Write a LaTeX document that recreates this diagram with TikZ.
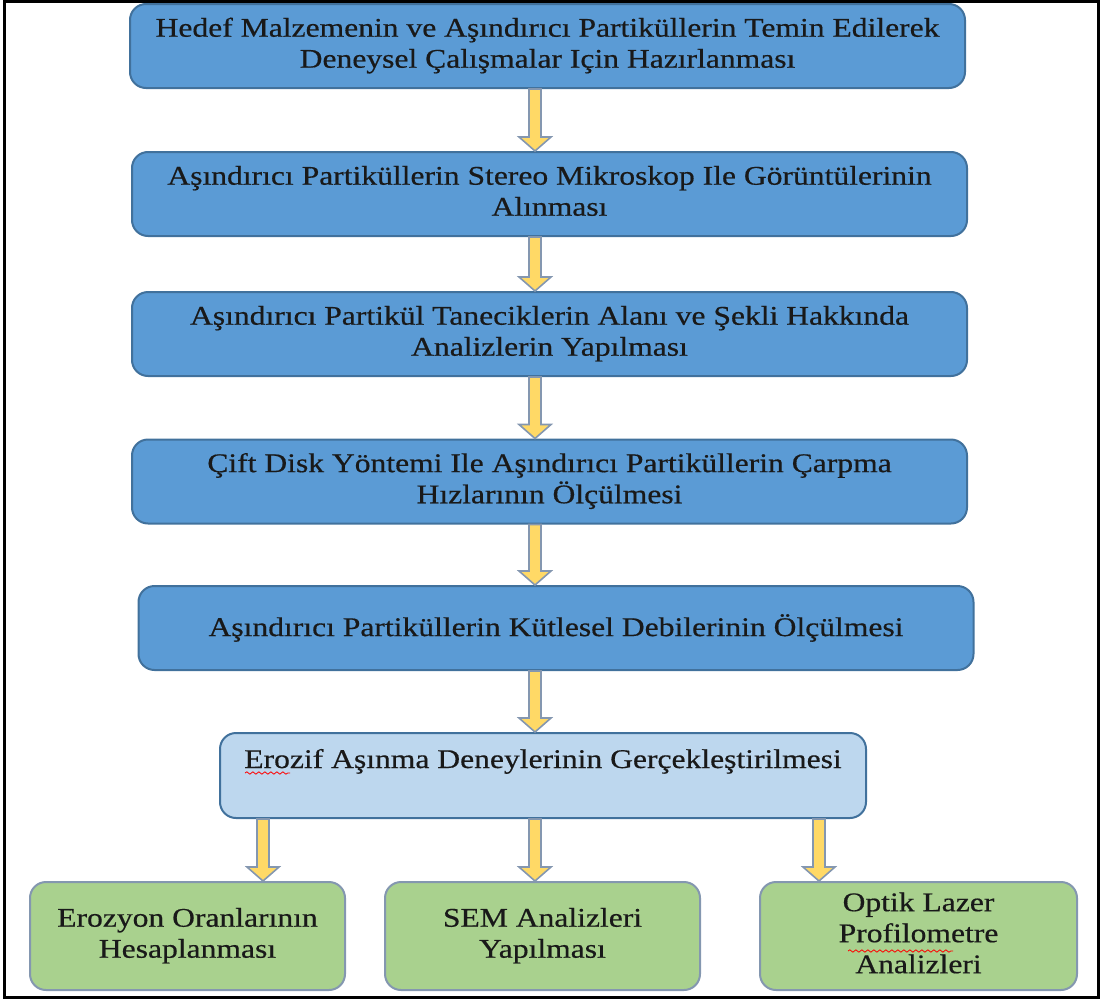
\documentclass[tikz,border=0pt]{standalone}
\usepackage{fontspec}
\setmainfont{Liberation Serif}[FakeStretch=1.17,FakeBold=0.5]
\usetikzlibrary{calc,decorations.pathmorphing}

\definecolor{boxblue}{HTML}{5B9BD5}
\definecolor{boxline}{HTML}{41719C}
\definecolor{lightblue}{HTML}{BDD7EE}
\definecolor{boxgreen}{HTML}{A9D18E}
\definecolor{arrowfill}{HTML}{FFD966}
\definecolor{arrowline}{HTML}{8497B0}

\newcommand{\fatarrow}[2]{%
  \path[yarrow] ($(#1)+(-6,0)$) -- ($(#2)+(-6,-14)$) -- ($(#2)+(-16,-14)$) -- (#2)
    -- ($(#2)+(16,-14)$) -- ($(#2)+(6,-14)$) -- ($(#1)+(6,0)$) -- cycle;}

\begin{document}
\begin{tikzpicture}[x=0.5pt,y=-0.5pt]
        \tikzstyle{every node}=[rectangle, rounded corners=8pt, draw=boxline, line width=1pt, inner sep=0pt, font=\fontsize{13.5}{15.5}\selectfont, text=black!90]
        \tikzstyle{mainbox}=[fill=boxblue, minimum width=417.5pt, minimum height=42pt]
        \tikzstyle{testbox}=[fill=lightblue, minimum width=323pt, text height=17.5pt, text depth=25pt]
        \tikzstyle{resultbox}=[fill=boxgreen, draw=arrowline, minimum width=157.5pt, minimum height=54pt]
        \tikzstyle{yarrow}=[fill=arrowfill, draw=arrowline, line width=0.8pt]

        \useasboundingbox (0,0) rectangle (1103,1001);
        \draw[line width=1.5pt] (4,1) rectangle (1098,997);

        \node[mainbox] (hedef)  at (547.5,46)  {\begin{tabular}{c} Hedef Malzemenin ve Aşındırıcı Partiküllerin Temin Edilerek \\ Deneysel Çalışmalar Için Hazırlanması \end{tabular}};
        \node[mainbox] (stereo) at (549.5,194) {\begin{tabular}{c} Aşındırıcı Partiküllerin Stereo Mikroskop Ile Görüntülerinin \\ Alınması \end{tabular}};
        \node[mainbox] (sekil)  at (549.5,334) {\begin{tabular}{c} Aşındırıcı Partikül Taneciklerin Alanı ve Şekli Hakkında \\ Analizlerin Yapılması \end{tabular}};
        \node[mainbox] (hiz)    at (549.5,481.5) {\begin{tabular}{c} Çift Disk Yöntemi Ile Aşındırıcı Partiküllerin Çarpma \\ Hızlarının Ölçülmesi \end{tabular}};
        \node[mainbox] (debi)   at (556,628)   {Aşındırıcı Partiküllerin Kütlesel Debilerinin Ölçülmesi};
        \node[testbox] (deney)  at (543,775.5) {Erozif Aşınma Deneylerinin Gerçekleştirilmesi};

        \node[resultbox] (oran)  at (187.5,936) {\begin{tabular}{c} Erozyon Oranlarının \\ Hesaplanması \end{tabular}};
        \node[resultbox] (sem)   at (542.5,936) {\begin{tabular}{c} SEM Analizleri \\ Yapılması \end{tabular}};
        \node[resultbox, minimum width=158.5pt] (lazer) at (918.5,936) {\begin{tabular}{c} Optik Lazer \\ Profilometre \\ Analizleri \end{tabular}};

        \coordinate (mid)   at (535,0);
        \coordinate (left)  at (263,0);
        \coordinate (right) at (819,0);

        \fatarrow{hedef.south -| mid}{stereo.north -| mid}
        \fatarrow{stereo.south -| mid}{sekil.north -| mid}
        \fatarrow{sekil.south -| mid}{hiz.north -| mid}
        \fatarrow{hiz.south -| mid}{debi.north -| mid}
        \fatarrow{debi.south -| mid}{deney.north -| mid}
        \fatarrow{deney.south -| left}{oran.north -| left}
        \fatarrow{deney.south -| mid}{sem.north -| mid}
        \fatarrow{deney.south -| right}{lazer.north -| right}

        \draw[red, decorate, decoration={snake, amplitude=0.6pt, segment length=3pt}] (245,773) -- (290,773);
        \draw[red, decorate, decoration={snake, amplitude=0.6pt, segment length=3pt}] (848,951) -- (953,951);
\end{tikzpicture}
\end{document}
